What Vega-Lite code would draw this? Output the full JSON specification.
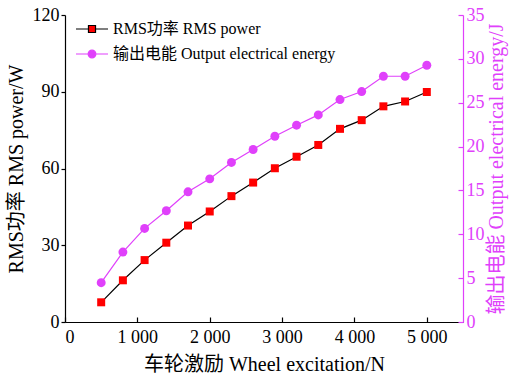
{
  "$schema": "https://vega.github.io/schema/vega-lite/v6.json",
  "width": 398,
  "height": 307,
  "autosize": "none",
  "padding": {"left": 65, "top": 15, "right": 47, "bottom": 56},
  "background": "white",
  "config": {
    "view": {"stroke": null},
    "font": "Liberation Serif, Noto Sans CJK SC",
    "axis": {"grid": false, "labelFont": "Liberation Serif", "titleFont": "Liberation Serif, Noto Sans CJK SC", "labelFontSize": 18, "titleFontSize": 20, "titleFontWeight": "normal", "labelColor": "black", "titleColor": "black", "domainColor": "black", "tickColor": "black", "domainWidth": 1.2, "tickWidth": 1.2}
  },
  "data": {
    "values": [
      {"x": 500, "power": 7.7, "energy": 4.48},
      {"x": 800, "power": 16.3, "energy": 7.97},
      {"x": 1100, "power": 24.2, "energy": 10.67},
      {"x": 1400, "power": 31.0, "energy": 12.68},
      {"x": 1700, "power": 37.7, "energy": 14.84},
      {"x": 2000, "power": 43.2, "energy": 16.32},
      {"x": 2300, "power": 49.2, "energy": 18.19},
      {"x": 2600, "power": 54.5, "energy": 19.67},
      {"x": 2900, "power": 60.1, "energy": 21.18},
      {"x": 3200, "power": 64.6, "energy": 22.44},
      {"x": 3500, "power": 69.2, "energy": 23.61},
      {"x": 3800, "power": 75.5, "energy": 25.36},
      {"x": 4100, "power": 78.9, "energy": 26.27},
      {"x": 4400, "power": 84.3, "energy": 28.02},
      {"x": 4700, "power": 86.2, "energy": 28.02},
      {"x": 5000, "power": 89.9, "energy": 29.27}
    ]
  },
  "encoding": {
    "x": {"field": "x", "type": "quantitative", "scale": {"domain": [0, 5500], "nice": false, "zero": false},
      "axis": {"values": [0, 1000, 2000, 3000, 4000, 5000], "tickSize": -5, "labelPadding": 11, "title": "车轮激励 Wheel excitation/N", "titlePadding": 8,
        "labelExpr": "datum.value >= 1000 ? replace(format(datum.value, ','), ',', ' ') : datum.label"}}
  },
  "layer": [
    {
      "layer": [
        {"mark": {"type": "line", "color": "black", "strokeWidth": 1.2}, "encoding": {"y": {"field": "power", "type": "quantitative"}}},
        {"mark": {"type": "point", "shape": "square", "filled": true, "size": 64, "opacity": 1, "color": "#ff0000"},
         "encoding": {"y": {"field": "power", "type": "quantitative"}}}
      ],
      "encoding": {
        "y": {"field": "power", "type": "quantitative", "scale": {"domain": [0, 120], "nice": false},
          "axis": {"values": [0, 30, 60, 90, 120], "tickSize": 4, "labelPadding": 2, "title": "RMS功率 RMS power/W", "titlePadding": 6}}
      }
    },
    {
      "layer": [
        {"mark": {"type": "line", "color": "#e040fb", "strokeWidth": 1.2}, "encoding": {"y": {"field": "energy", "type": "quantitative"}}},
        {"mark": {"type": "point", "shape": "circle", "filled": true, "size": 80, "opacity": 1, "color": "#e040fb"},
         "encoding": {"y": {"field": "energy", "type": "quantitative"}}}
      ],
      "encoding": {
        "y": {"field": "energy", "type": "quantitative", "scale": {"domain": [0, 35], "nice": false},
          "axis": {"orient": "right", "values": [0, 5, 10, 15, 20, 25, 30, 35], "tickSize": -5, "labelPadding": 8, "title": "输出电能 Output electrical energy/J", "titleAngle": 270, "titlePadding": 22,
            "domainColor": "#e040fb", "tickColor": "#e040fb", "labelColor": "#e040fb", "titleColor": "#e040fb"}}
      }
    },
    {
      "mark": {"type": "point", "opacity": 0, "filled": true, "strokeWidth": 1.2},
      "encoding": {
        "color": {"datum": "RMS功率 RMS power", "type": "nominal",
          "scale": {"domain": ["RMS功率 RMS power", "输出电能 Output electrical energy"], "range": ["#ff0000", "#e040fb"]},
          "legend": {
            "title": null, "orient": "none", "legendX": 10, "legendY": -3, "padding": 0,
            "symbolSize": 1024, "symbolStrokeWidth": 1.2, "labelFont": "Liberation Serif, Noto Sans CJK SC", "labelFontSize": 16, "labelColor": "black", "labelOffset": 4, "rowPadding": -11, "labelLimit": 400, "symbolOpacity": 1
          }},
        "shape": {"datum": "RMS功率 RMS power", "type": "nominal",
          "scale": {"domain": ["RMS功率 RMS power", "输出电能 Output electrical energy"], "range": ["M-1,0H-0.22M0.22,0H1M-0.22,-0.22H0.22V0.22H-0.22Z", "M-1,0H-0.24M0.24,0H1M0.24,0A0.24,0.24 0 1,1 -0.24,0A0.24,0.24 0 1,1 0.24,0Z"]},
          "legend": {
            "title": null, "orient": "none", "legendX": 10, "legendY": -3, "padding": 0,
            "symbolSize": 1024, "symbolStrokeWidth": 1.2, "labelFont": "Liberation Serif, Noto Sans CJK SC", "labelFontSize": 16, "labelColor": "black", "labelOffset": 4, "rowPadding": -11, "labelLimit": 400, "symbolOpacity": 1
          }},
        "stroke": {"datum": "RMS功率 RMS power", "type": "nominal",
          "scale": {"domain": ["RMS功率 RMS power", "输出电能 Output electrical energy"], "range": ["black", "#e040fb"]},
          "legend": {
            "title": null, "orient": "none", "legendX": 10, "legendY": -3, "padding": 0,
            "symbolSize": 1024, "symbolStrokeWidth": 1.2, "labelFont": "Liberation Serif, Noto Sans CJK SC", "labelFontSize": 16, "labelColor": "black", "labelOffset": 4, "rowPadding": -11, "labelLimit": 400, "symbolOpacity": 1
          }}
      }
    }
  ],
  "resolve": {"scale": {"y": "independent"}}
}
